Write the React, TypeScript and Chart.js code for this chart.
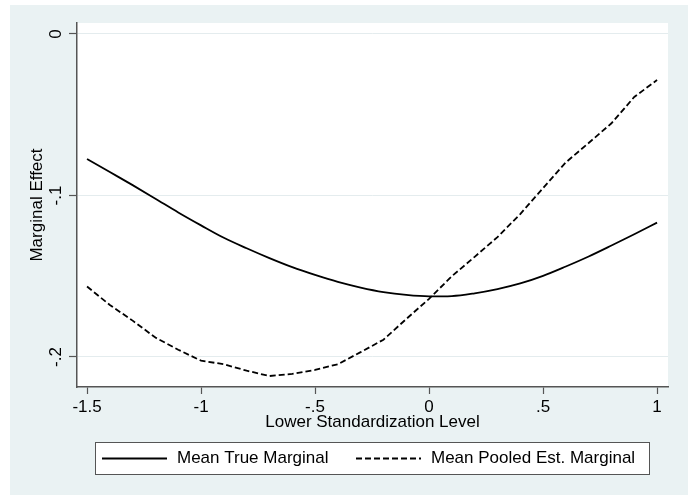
import React, { useEffect, useRef } from "react";
import { Chart, registerables } from "chart.js";

Chart.register(...registerables);

// ---- data ----
const xLevels = [
  -1.5, -1.4, -1.3, -1.2, -1.1, -1.0, -0.9, -0.8, -0.7, -0.6, -0.5, -0.4, -0.3,
  -0.2, -0.1, 0.0, 0.1, 0.2, 0.3, 0.4, 0.5, 0.6, 0.7, 0.8, 0.9, 1.0,
];
const meanTrueMarginal = [
  -0.0774, -0.0855, -0.0936, -0.102, -0.1105, -0.1185, -0.1262, -0.1327, -0.1388,
  -0.1444, -0.1492, -0.1535, -0.157, -0.1598, -0.1616, -0.1625, -0.1623, -0.1606,
  -0.158, -0.1545, -0.1498, -0.144, -0.1378, -0.131, -0.124, -0.1168,
];
const meanPooledEstMarginal = [
  -0.1564, -0.1678, -0.1775, -0.188, -0.1955, -0.2023, -0.2045, -0.2085, -0.2118,
  -0.2105, -0.208, -0.2045, -0.197, -0.1893, -0.1765, -0.164, -0.15, -0.138,
  -0.1258, -0.1115, -0.0955, -0.0795, -0.0675, -0.0553, -0.039, -0.0285,
];
const seriesNames = ["Mean True Marginal", "Mean Pooled Est. Marginal"];
const xTickValues = [-1.5, -1, -0.5, 0, 0.5, 1];
const xTickLabels = ["-1.5", "-1", "-.5", "0", ".5", "1"];
const yTickValues = [-0.2, -0.1, 0];
const yTickLabels = ["-.2", "-.1", "0"];
const xTitle = "Lower Standardization Level";
const yTitle = "Marginal Effect";

// ---- style ----
const FONT = "'Liberation Sans', Arial, Helvetica, sans-serif";
const BG = "#eaf2f3";
const GRID = "#e4ecee";
const AXIS = "#555555";

const labelFor = (vals: number[], labels: string[]) => (v: any) => {
  const i = vals.findIndex((t) => Math.abs(t - Number(v)) < 1e-9);
  return i >= 0 ? labels[i] : "";
};

const bgPlugin = {
  id: "stataBg",
  beforeDraw(chart: any) {
    const { ctx, chartArea: a, width, height } = chart;
    ctx.save();
    ctx.fillStyle = "#ffffff";
    ctx.fillRect(0, 0, width, height);
    ctx.fillStyle = BG;
    ctx.fillRect(10, 5, width - 10, height - 5);
    ctx.fillStyle = "#ffffff";
    ctx.fillRect(a.left, a.top, a.right - a.left, a.bottom - a.top);
    ctx.restore();
  },
};

const legendPlugin = {
  id: "stataLegend",
  afterDraw(chart: any) {
    const { ctx } = chart;
    ctx.save();
    const bx = 95.5, by = 442.5, bw = 554, bh = 32;
    ctx.fillStyle = "#ffffff";
    ctx.fillRect(bx, by, bw, bh);
    ctx.strokeStyle = AXIS;
    ctx.lineWidth = 1;
    ctx.strokeRect(bx, by, bw, bh);
    const cy = by + bh / 2;
    const keys = [
      { x0: 102, dash: [] as number[], text: seriesNames[0] },
      { x0: 356, dash: [6, 3], text: seriesNames[1] },
    ];
    keys.forEach((k) => {
      ctx.strokeStyle = "#000";
      ctx.lineWidth = 1.8;
      ctx.setLineDash(k.dash);
      ctx.beginPath();
      ctx.moveTo(k.x0, cy);
      ctx.lineTo(k.x0 + 65, cy);
      ctx.stroke();
      ctx.setLineDash([]);
      ctx.fillStyle = "#000";
      ctx.font = `17px ${FONT}`;
      ctx.textAlign = "left";
      ctx.textBaseline = "middle";
      ctx.fillText(k.text, k.x0 + 75, cy);
    });
    ctx.restore();
  },
};

export default function App() {
  const ref = useRef<HTMLCanvasElement | null>(null);
  useEffect(() => {
    if (!ref.current) return;
    Chart.defaults.font.family = FONT;
    const chart = new Chart(ref.current, {
      type: "line",
      data: {
        datasets: [
          {
            label: seriesNames[0],
            data: xLevels.map((x, i) => ({ x, y: meanTrueMarginal[i] })),
            borderColor: "#000",
            borderWidth: 1.8,
            pointRadius: 0,
            cubicInterpolationMode: "monotone",
            fill: false,
          },
          {
            label: seriesNames[1],
            data: xLevels.map((x, i) => ({ x, y: meanPooledEstMarginal[i] })),
            borderColor: "#000",
            borderWidth: 1.8,
            borderDash: [6, 3],
            pointRadius: 0,
            tension: 0,
            fill: false,
          },
        ],
      },
      options: {
        responsive: false,
        maintainAspectRatio: false,
        animation: false,
        layout: { padding: { left: 10, top: 23, right: 20, bottom: 62 } },
        plugins: { legend: { display: false }, tooltip: { enabled: false } },
        scales: {
          x: {
            type: "linear",
            min: -1.544,
            max: 1.048,
            afterBuildTicks: (s: any) => {
              s.ticks = xTickValues.map((v) => ({ value: v }));
            },
            afterFit: (s: any) => {
              s.height = 46;
            },
            ticks: {
              callback: labelFor(xTickValues, xTickLabels),
              color: "#000",
              font: { size: 17, family: FONT },
              padding: 3,
              maxRotation: 0,
              autoSkip: false,
            },
            grid: {
              drawOnChartArea: false,
              drawTicks: true,
              tickLength: 7,
              tickColor: AXIS,
              tickWidth: 1.2,
            },
            border: { color: AXIS, width: 1.5 },
            title: {
              display: true,
              text: xTitle,
              color: "#000",
              font: { size: 17, family: FONT },
              padding: { top: 0, bottom: 0 },
            },
          },
          y: {
            type: "linear",
            min: -0.2186,
            max: 0.0068,
            afterBuildTicks: (s: any) => {
              s.ticks = yTickValues.map((v) => ({ value: v }));
            },
            afterFit: (s: any) => {
              s.width = 67;
            },
            ticks: {
              callback: labelFor(yTickValues, yTickLabels),
              color: "#000",
              font: { size: 17, family: FONT },
              padding: 3,
              minRotation: 90,
              maxRotation: 90,
              crossAlign: "center",
              autoSkip: false,
            },
            grid: {
              color: GRID,
              lineWidth: 1,
              drawTicks: true,
              tickLength: 8,
              tickColor: AXIS,
              tickWidth: 1.2,
            },
            border: { color: AXIS, width: 1.5 },
            title: {
              display: true,
              text: yTitle,
              color: "#000",
              font: { size: 17, family: FONT },
              padding: { top: 17, bottom: 0 },
            },
          },
        },
      } as any,
      plugins: [bgPlugin, legendPlugin],
    });
    return () => chart.destroy();
  }, []);
  return (
    <div style={{ position: "absolute", left: 0, top: 0, width: 688, height: 495 }}>
      <canvas ref={ref} width={688} height={495} style={{ display: "block" }} />
    </div>
  );
}
